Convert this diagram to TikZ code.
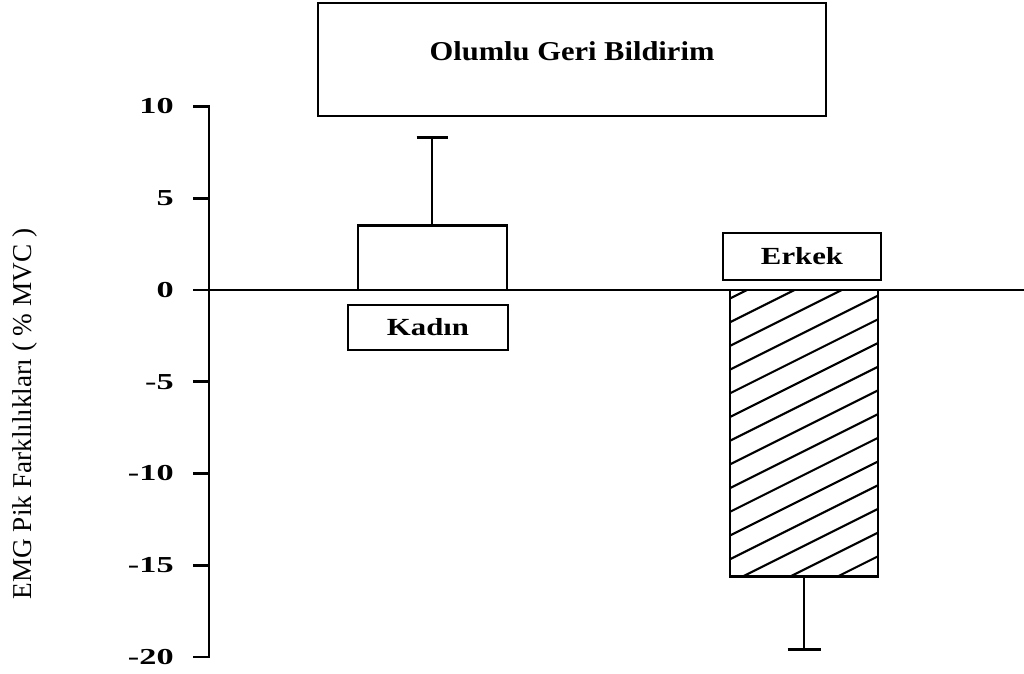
\documentclass[tikz,border=0pt]{standalone}
\usepackage{fontspec}
\setmainfont{Liberation Serif}
\newfontfamily\tickfont[FakeStretch=1.5]{Liberation Serif}
\newfontfamily\boxfont[FakeStretch=1.25]{Liberation Serif}
\newfontfamily\headfont[FakeStretch=1.12]{Liberation Serif}
\usetikzlibrary{positioning}
\tikzset{
    frame/.style={
    rectangle,draw=black,line width=1.2pt,fill=white,inner sep=0pt
    },
    bar/.style={
    draw=black,line width=1.5pt
    },
    errbar/.style={
    draw=black,line width=1.5pt
    },
    ticklabel/.style={
    anchor=east,font=\tickfont\bfseries\fontsize{13}{14}\selectfont,inner sep=0pt
    },
    grouplabel/.style={
    font=\boxfont\bfseries\fontsize{14}{15}\selectfont
    },
}

\begin{document}
\begin{tikzpicture}[x=0.2mm,y=-0.2mm]
   \useasboundingbox (0,0) rectangle (1024,673);

   %axis
   \draw[line width=1.6pt] (193,{290-18.35*10}) -- (209,{290-18.35*10}) -- (209,{290+18.35*20}) -- (193,{290+18.35*20});
   \foreach \v in {5,0,-5,-10,-15} {
     \draw[line width=1.6pt] (193,{290-18.35*\v}) -- (209,{290-18.35*\v});
   }
   \foreach \v/\t in {10/10,5/5,0/0,-5/-5,-10/-10,-15/-15,-20/-20} {
     \node[ticklabel] (tick\t) at (174,{290-18.35*\v}) {\t};
   }
   \node[rotate=90,font=\fontsize{15.5}{16}\selectfont] (ylabel) at (25,414) {EMG Pik Farklılıkları ( \% MVC )};

   %kadin
   \draw[bar] (358,290) rectangle (507,{290-18.35*3.5});
   \coordinate (kerr0) at (432,{290-18.35*3.5});
   \coordinate (kerr1) at (432,{290-18.35*8.3});
   \draw[errbar] (kerr0) -- (kerr1);
   \draw[errbar] ([xshift=-3.1mm]kerr1) -- ([xshift=3.1mm]kerr1);

   %erkek
   \begin{scope}
     \clip (730,290) rectangle (878,{290+18.35*15.6});
     \foreach \k in {-6,...,12} {
       \draw[line width=1.2pt] (730,{417+23.7*\k}) -- (878,{417+23.7*\k-74});
     }
   \end{scope}
   \draw[bar] (730,290) rectangle (878,{290+18.35*15.6});
   \coordinate (eerr0) at (804,{290+18.35*15.6});
   \coordinate (eerr1) at (804,{290+18.35*19.6});
   \draw[errbar] (eerr0) -- (eerr1);
   \draw[errbar] ([xshift=-3.3mm]eerr1) -- ([xshift=3.3mm]eerr1);

   %zero line
   \draw[line width=1.1pt] (209,290) -- (1024,290);

   %labels
   \node[frame,minimum width=32mm,minimum height=9mm] (kadinbox) at (428,327.5) {};
   \node[grouplabel] (kadin) at (kadinbox) {Kadın};
   \node[frame,minimum width=31.6mm,minimum height=9.4mm] (erkekbox) at (802,256.5) {};
   \node[grouplabel] (erkek) at (erkekbox) {Erkek};
   \node[frame,minimum width=101.6mm,minimum height=22.6mm] (titlebox) at (572,59.5) {};
   \node[font=\headfont\bfseries\fontsize{15.5}{16}\selectfont] (title) at (572,51) {Olumlu Geri Bildirim};
\end{tikzpicture}
\end{document}
